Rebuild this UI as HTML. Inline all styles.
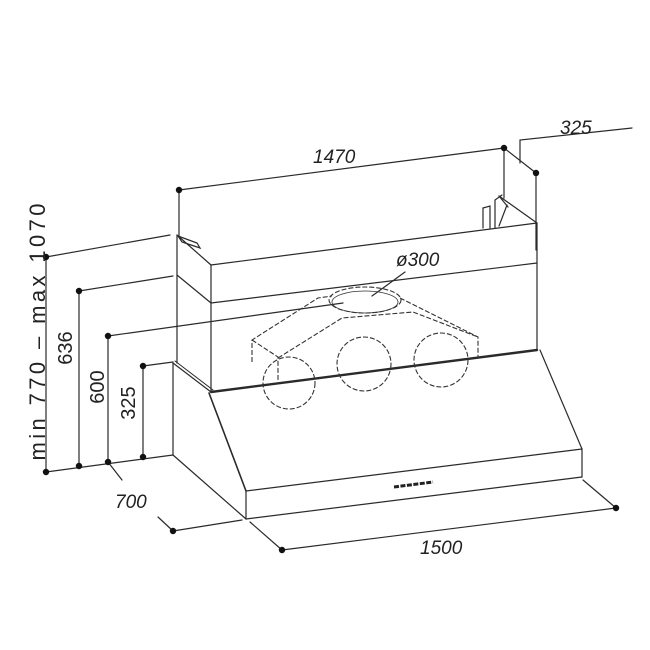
<!DOCTYPE html>
<html><head><style>
html,body{margin:0;padding:0;background:#fff;}
svg{display:block;}
text{font-family:"Liberation Sans",sans-serif;fill:#222;}
</style></head><body>
<svg width="650" height="650" viewBox="0 0 650 650" xmlns="http://www.w3.org/2000/svg">
<g stroke="#2a2a2a" stroke-width="1.2" fill="none" stroke-linecap="round">
<line x1="179" y1="190" x2="504" y2="148"/>
<line x1="179" y1="190" x2="179" y2="236"/>
<line x1="504" y1="148" x2="504" y2="198"/>
<line x1="504" y1="148" x2="536" y2="173"/>
<line x1="536" y1="173" x2="536" y2="250"/>
<polyline points="520,163 520,140 632,128"/>
<line x1="177" y1="235" x2="177" y2="363"/>
<line x1="211" y1="265" x2="211" y2="392"/>
<line x1="537" y1="223" x2="537" y2="350"/>
<line x1="177" y1="235" x2="211" y2="265"/>
<line x1="211" y1="265" x2="537" y2="223"/>
<line x1="177" y1="275" x2="211" y2="303"/>
<line x1="211" y1="303" x2="537" y2="263"/>
<line x1="499" y1="196" x2="537" y2="223"/>
<polygon points="178,236 197,243 200,248 182,242"/>
<polyline points="483,228 483,208 490,206 490,228"/>
<polyline points="495,228 495,200 502,195"/>
<line x1="499" y1="196" x2="508" y2="207"/>
<line x1="507" y1="205" x2="499" y2="226"/>
<line x1="211" y1="392" x2="537" y2="350" stroke-width="2.4"/>
<line x1="173" y1="363" x2="211" y2="392"/>
<line x1="175" y1="361" x2="213" y2="390" stroke-width="1"/>
<line x1="173" y1="363" x2="173" y2="455"/>
<line x1="173" y1="455" x2="246" y2="519"/>
<line x1="209" y1="393" x2="246" y2="491" stroke-width="1.6"/>
<line x1="540" y1="350" x2="582" y2="449"/>
<line x1="246" y1="491" x2="582" y2="449"/>
<line x1="246" y1="519" x2="582" y2="477"/>
<line x1="246" y1="491" x2="246" y2="519"/>
<line x1="582" y1="449" x2="582" y2="477"/>
<line x1="250" y1="522" x2="282" y2="550"/>
<line x1="583" y1="480" x2="616" y2="508"/>
<line x1="282" y1="550" x2="616" y2="508"/>
<line x1="173" y1="531" x2="242" y2="520"/>
<line x1="158" y1="517" x2="173" y2="531"/>
<line x1="108" y1="462" x2="122" y2="480"/>
<line x1="46" y1="257" x2="170" y2="235"/>
<line x1="46" y1="257" x2="46" y2="472"/>
<line x1="79" y1="291" x2="173" y2="276"/>
<line x1="79" y1="291" x2="79" y2="466"/>
<line x1="108" y1="336" x2="343" y2="303"/>
<line x1="108" y1="336" x2="108" y2="462"/>
<line x1="143" y1="366" x2="173" y2="362"/>
<line x1="143" y1="366" x2="143" y2="457"/>
<line x1="46" y1="472" x2="173" y2="455"/>
<line x1="405" y1="272" x2="372" y2="296"/>
</g>
<g stroke="#222" stroke-width="3" stroke-dasharray="5,1.5">
<line x1="394" y1="487" x2="433" y2="482"/>
</g>
<g stroke="#333" stroke-width="1.1" fill="none" stroke-dasharray="5,2">
<ellipse cx="365" cy="300" rx="36" ry="13"/>
<ellipse cx="365" cy="302" rx="33" ry="11" stroke-dasharray="none" stroke-width="0.8"/>
<circle cx="289" cy="383" r="26"/>
<circle cx="364" cy="364" r="27"/>
<circle cx="441" cy="360" r="27"/>
<polyline points="252,362 252,340 318,298 332,296"/>
<polyline points="400,298 478,337 478,358"/>
<polyline points="252,340 278,357 278,380"/>
<polyline points="278,358 342,318 413,312 478,337"/>
</g>
<g fill="#111">
<circle cx="179" cy="190" r="3.2"/><circle cx="504" cy="148" r="3.2"/><circle cx="536" cy="173" r="3.2"/>
<circle cx="46" cy="257" r="3.2"/><circle cx="79" cy="291" r="3.2"/><circle cx="108" cy="336" r="3.2"/><circle cx="143" cy="366" r="3.2"/>
<circle cx="46" cy="472" r="3.2"/><circle cx="79" cy="466" r="3.2"/><circle cx="108" cy="462" r="3.2"/><circle cx="143" cy="457" r="3.2"/>
<circle cx="173" cy="531" r="3.2"/><circle cx="282" cy="550" r="3.2"/><circle cx="616" cy="508" r="3.2"/>
</g>
<g font-size="19" font-style="italic">
<text x="313" y="163">1470</text>
<text x="560" y="134">325</text>
<text x="396" y="266">ø300</text>
<text x="420" y="554">1500</text>
<text x="115" y="508">700</text>
</g>
<g font-size="20">
<text transform="translate(45,332) rotate(-90)" text-anchor="middle" font-size="22" textLength="257" lengthAdjust="spacing">min 770 – max 1070</text>
<text transform="translate(72,348) rotate(-90)" text-anchor="middle">636</text>
<text transform="translate(104,387) rotate(-90)" text-anchor="middle">600</text>
<text transform="translate(135,403) rotate(-90)" text-anchor="middle">325</text>
</g>
</svg>
</body></html>
